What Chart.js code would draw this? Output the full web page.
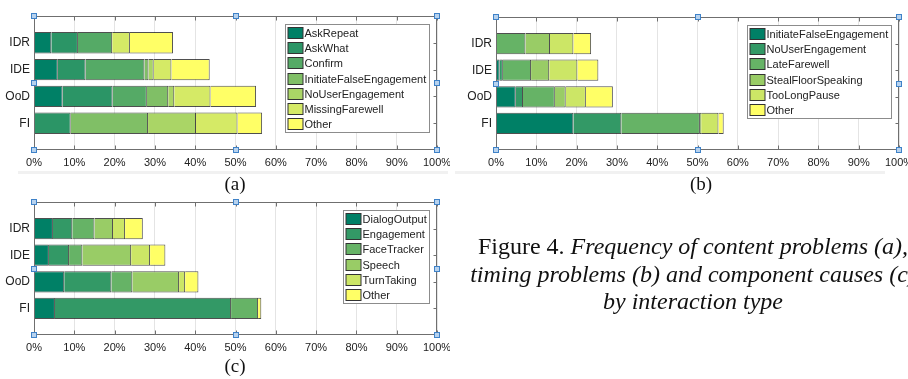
<!DOCTYPE html>
<html lang="en">
<head>
    <meta charset="UTF-8">
    <title>Figure 4</title>
    <script src="https://cdn.jsdelivr.net/npm/chart.js"></script>
    <style>
        body {
            margin: 0;
            width: 908px;
            height: 379px;
            overflow: hidden;
            background: #fff;
            position: relative;
            font-family: 'Liberation Sans', Arial, sans-serif;
        }
        canvas { position: absolute; }
        .sub {
            position: absolute;
            font-family: 'Liberation Serif', 'Times New Roman', serif;
            font-size: 19px;
            line-height: 20px;
            width: 40px;
            text-align: center;
            color: #111;
        }
        .band { position: absolute; height: 3px; background: #f1f1f1; }
        #caption {
            position: absolute;
            left: 393px;
            top: 233px;
            width: 600px;
            text-align: center;
            white-space: nowrap;
            font-family: 'Liberation Serif', 'Times New Roman', serif;
            font-size: 24px;
            line-height: 27.5px;
            color: #111;
        }
    </style>
</head>
<body>
    <canvas id="chartA" width="450" height="172" style="left:0;top:0"></canvas>
    <canvas id="chartB" width="453" height="172" style="left:455px;top:0"></canvas>
    <canvas id="chartC" width="450" height="170" style="left:0;top:190px"></canvas>

    <div class="band" style="left:18px;top:171px;width:430px"></div>
    <div class="band" style="left:455px;top:171px;width:430px"></div>

    <div class="sub" style="left:215px;top:174px">(a)</div>
    <div class="sub" style="left:681px;top:174px">(b)</div>
    <div class="sub" style="left:215px;top:356px">(c)</div>

    <div id="caption">Figure 4. <i>Frequency of content problems (a),</i><br><i>timing problems (b) and component causes (c)</i><br><i>by interaction type</i></div>

    <script>
    // --- data (percent of interactions) ---
    const categories = ['IDR', 'IDE', 'OoD', 'FI'];

    // (a) content problems
    const contentLabels = ['AskRepeat', 'AskWhat', 'Confirm', 'InitiateFalseEngagement', 'NoUserEngagement', 'MissingFarewell', 'Other'];
    const askRepeat        = [4.3, 5.9, 7.1, 0];
    const askWhat          = [6.6, 6.9, 12.4, 9.1];
    const confirm          = [8.5, 14.6, 8.5, 0];
    const initFalseEngA    = [0, 1.0, 5.3, 19.2];
    const noUserEngA       = [0, 1.3, 1.5, 11.9];
    const missingFarewell  = [4.4, 4.4, 9.0, 10.3];
    const otherA           = [10.7, 9.5, 11.3, 6.1];

    // (b) timing problems
    const timingLabels = ['InitiateFalseEngagement', 'NoUserEngagement', 'LateFarewell', 'StealFloorSpeaking', 'TooLongPause', 'Other'];
    const initFalseEngB    = [0, 0.9, 4.9, 19.2];
    const noUserEngB       = [0, 0.8, 1.8, 11.9];
    const lateFarewell     = [7.3, 7.0, 7.9, 19.5];
    const stealFloor       = [6.1, 4.5, 2.7, 0.3];
    const tooLongPause     = [5.8, 7.0, 5.0, 4.3];
    const otherB           = [4.4, 5.2, 6.7, 1.3];

    // (c) component causes
    const componentLabels = ['DialogOutput', 'Engagement', 'FaceTracker', 'Speech', 'TurnTaking', 'Other'];
    const dialogOutput     = [4.7, 3.7, 7.5, 5.2];
    const engagement       = [4.8, 5.0, 11.7, 43.7];
    const faceTracker      = [5.5, 3.3, 5.2, 6.7];
    const speech           = [4.6, 12.1, 11.6, 0];
    const turnTaking       = [3.0, 4.7, 1.5, 0];
    const otherC           = [4.4, 3.8, 3.3, 0.8];

    // matlab "summer" colormap
    const summer7 = ['#008066', '#2b9566', '#55aa66', '#80bf66', '#aad566', '#d5ea66', '#ffff66'];
    const summer6 = ['#008066', '#339966', '#66b366', '#99cc66', '#cce666', '#ffff66'];

    const axisGray = '#6f6f6f';
    const textColor = '#222';

    // one empty slot above and below, like matlab's ylim [0 5]
    const paddedLabels = ['', ...categories, ''];
    const pad = arr => [null, ...arr, null];

    // --- plugins ---
    const framePlugin = {
        id: 'frame',
        afterDraw(chart) {
            const { ctx, chartArea: a, scales } = chart;
            const L = Math.round(a.left) + 0.5, R = Math.round(a.right) - 0.5;
            const T = Math.round(a.top) + 0.5, B = Math.round(a.bottom) - 0.5;
            ctx.save();
            ctx.strokeStyle = axisGray;
            ctx.lineWidth = 1;
            ctx.strokeRect(L, T, R - L, B - T);
            ctx.beginPath();
            scales.x.ticks.forEach(t => {
                const x = Math.round(scales.x.getPixelForValue(t.value)) + 0.5;
                ctx.moveTo(x, T); ctx.lineTo(x, T + 4);
                ctx.moveTo(x, B); ctx.lineTo(x, B - 4);
            });
            categories.forEach((c, i) => {
                const y = Math.round(scales.y.getPixelForValue(i + 1)) + 0.5;
                ctx.moveTo(R, y); ctx.lineTo(R - 3, y);
            });
            ctx.stroke();
            ctx.restore();
        }
    };

    const boxLegendPlugin = {
        id: 'boxLegend',
        afterDraw(chart) {
            const { ctx, chartArea: a } = chart;
            const sets = chart.data.datasets;
            const step = 15.2;
            ctx.save();
            ctx.font = '11px "Liberation Sans", Arial, sans-serif';
            const maxW = Math.max(...sets.map(d => ctx.measureText(d.label).width));
            const w = Math.round(3 + 15 + 1 + maxW + 3);
            const h = Math.round(sets.length * step + 2);
            const x0 = Math.round(a.right - 8 - w) + 0.5;
            const y0 = Math.round(a.top + 7.5) + 0.5;
            ctx.fillStyle = '#fff';
            ctx.fillRect(x0, y0, w, h);
            ctx.strokeStyle = '#8c8c8c';
            ctx.lineWidth = 1;
            ctx.strokeRect(x0, y0, w, h);
            sets.forEach((d, i) => {
                const py = Math.round(y0 + 2.5 + i * step);
                ctx.fillStyle = d.backgroundColor;
                ctx.fillRect(x0 + 2.5, py, 15, 11.5);
                ctx.strokeStyle = '#333';
                ctx.strokeRect(x0 + 2.5, py + 0.5, 15, 11);
                ctx.fillStyle = textColor;
                ctx.textBaseline = 'middle';
                ctx.fillText(d.label, x0 + 19, py + 6.5);
            });
            ctx.restore();
        }
    };

    // the blue selection handles on the axes box
    const handlesPlugin = {
        id: 'handles',
        afterDraw(chart) {
            const { ctx, chartArea: a } = chart;
            const xs = [a.left, (a.left + a.right) / 2, a.right];
            const ys = [a.top, (a.top + a.bottom) / 2, a.bottom];
            ctx.save();
            ctx.fillStyle = '#b7d2ee';
            ctx.strokeStyle = '#3f82c8';
            ctx.lineWidth = 1;
            ys.forEach((y, j) => xs.forEach((x, i) => {
                if (i === 1 && j === 1) return;
                ctx.fillRect(Math.round(x) - 2, Math.round(y) - 2, 5, 5);
                ctx.strokeRect(Math.round(x) - 2.5, Math.round(y) - 2.5, 5, 5);
            }));
            ctx.restore();
        }
    };

    // --- chart helper ---
    function renderStackedBar(canvasId, labels, series, colors, box) {
        const canvas = document.getElementById(canvasId);
        const H = canvas.height, W = canvas.width;
        new Chart(canvas.getContext('2d'), {
            type: 'bar',
            data: {
                labels: paddedLabels,
                datasets: series.map((s, i) => ({
                    label: labels[i],
                    data: pad(s),
                    backgroundColor: colors[i],
                    borderColor: 'rgba(20,20,20,0.75)',
                    borderWidth: { top: 1, bottom: 1, right: 1, left: 0 },
                    borderSkipped: false,
                    categoryPercentage: 1,
                    barPercentage: 0.8
                }))
            },
            options: {
                indexAxis: 'y',
                responsive: false,
                animation: false,
                layout: { padding: { top: box.top, right: W - box.right, left: 0, bottom: 0 } },
                plugins: {
                    legend: { display: false },
                    tooltip: { enabled: false }
                },
                scales: {
                    x: {
                        stacked: true,
                        min: 0,
                        max: 100,
                        grid: { color: '#e4e4e4', drawTicks: false },
                        border: { display: false },
                        ticks: {
                            stepSize: 10,
                            padding: 6,
                            color: textColor,
                            font: { family: '"Liberation Sans", Arial, sans-serif', size: 11 },
                            maxRotation: 0,
                            autoSkip: false,
                            callback: v => v + '%'
                        },
                        afterFit: s => { s.height = H - box.bottom; s.paddingLeft = 0; s.paddingRight = 0; }
                    },
                    y: {
                        stacked: true,
                        offset: false,
                        grid: { display: false, drawTicks: false },
                        border: { display: false },
                        ticks: {
                            padding: 4,
                            color: textColor,
                            font: { family: '"Liberation Sans", Arial, sans-serif', size: 12 }
                        },
                        afterFit: s => { s.width = box.left; s.paddingTop = 0; s.paddingBottom = 0; }
                    }
                }
            },
            plugins: [framePlugin, boxLegendPlugin, handlesPlugin]
        });
    }

    renderStackedBar('chartA', contentLabels,
        [askRepeat, askWhat, confirm, initFalseEngA, noUserEngA, missingFarewell, otherA],
        summer7, { left: 34, right: 437, top: 16, bottom: 150 });

    renderStackedBar('chartB', timingLabels,
        [initFalseEngB, noUserEngB, lateFarewell, stealFloor, tooLongPause, otherB],
        summer6, { left: 41, right: 444, top: 17, bottom: 150 });

    renderStackedBar('chartC', componentLabels,
        [dialogOutput, engagement, faceTracker, speech, turnTaking, otherC],
        summer6, { left: 34, right: 437, top: 12, bottom: 145 });
    </script>
</body>
</html>
